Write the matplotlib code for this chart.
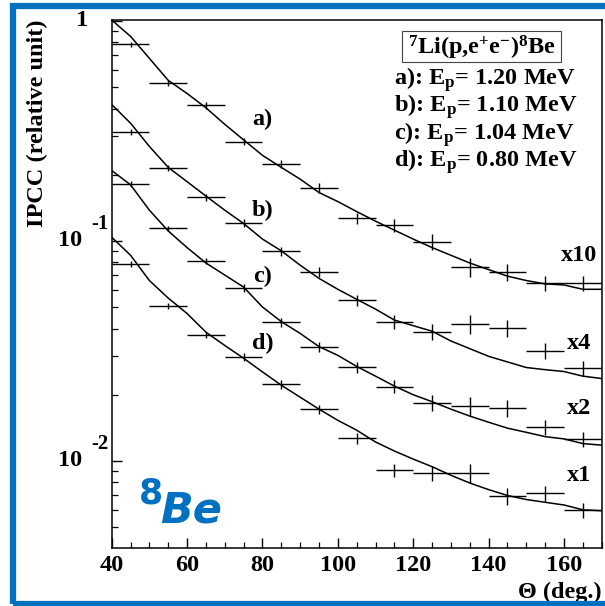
import matplotlib
matplotlib.use("Agg")
import matplotlib.pyplot as plt
import numpy as np
from matplotlib.patches import Rectangle
from matplotlib.ticker import MultipleLocator, LogLocator, NullFormatter, FixedLocator

# ---- data (IPCC vs angle, 7Li(p,e+e-)8Be) ----
theta = [45, 55, 65, 75, 85, 95, 105, 115, 125, 135, 145, 155, 165]
theta_halfwidth = 5
rel_err = [0.03, 0.03, 0.035, 0.04, 0.045, 0.05, 0.06, 0.07, 0.08, 0.10, 0.09, 0.08, 0.08]

data_a = [0.783, 0.522, 0.414, 0.283, 0.224, 0.174, 0.127, 0.118, 0.0993, 0.0764, 0.0724, 0.0643, 0.0643]
data_b = [0.314, 0.214, 0.158, 0.121, 0.0897, 0.0724, 0.0537, 0.0430, 0.0387, 0.0420, 0.0401, 0.0317, 0.0264]
data_c = [0.182, 0.114, 0.0811, 0.0610, 0.0427, 0.0331, 0.0267, 0.0218, 0.0184, 0.0177, 0.0174, 0.0142, 0.01256]
data_d = [0.0789, 0.0507, 0.0374, 0.0298, 0.0223, 0.0172, 0.0127, 0.0091, 0.0088, 0.00885, 0.00695, 0.00713, 0.00598]

curve_theta = [40, 45, 50, 55, 60, 65, 70, 75, 80, 85, 90, 95, 100, 105,
               110, 115, 120, 125, 130, 135, 140, 145, 150, 155, 160, 165, 170]
curve_a = [1.01, 0.851, 0.676, 0.537, 0.468, 0.403, 0.339, 0.288, 0.245, 0.216, 0.191, 0.166, 0.151, 0.136,
           0.123, 0.112, 0.102, 0.0933, 0.0861, 0.0794, 0.0741, 0.0692, 0.0661, 0.0638, 0.0631, 0.0603, 0.0603]
curve_b = [0.417, 0.343, 0.269, 0.216, 0.186, 0.160, 0.138, 0.120, 0.102, 0.0902, 0.0776, 0.0676, 0.0603, 0.0543,
           0.0490, 0.0437, 0.0412, 0.0389, 0.0351, 0.0324, 0.0299, 0.0282, 0.0266, 0.0260, 0.0255, 0.0243, 0.0237]
curve_c = [0.209, 0.180, 0.138, 0.111, 0.0933, 0.0794, 0.0700, 0.0617, 0.0501, 0.0430, 0.0380, 0.0331, 0.0302, 0.0269,
           0.0243, 0.0219, 0.0200, 0.0186, 0.0172, 0.0160, 0.0150, 0.0141, 0.0135, 0.0129, 0.0126, 0.0120, 0.0118]
curve_d = [0.104, 0.0861, 0.0661, 0.0550, 0.0468, 0.0385, 0.0335, 0.0293, 0.0254, 0.0221, 0.0195, 0.0172, 0.0153, 0.0138,
           0.0122, 0.0111, 0.0102, 0.00942, 0.00861, 0.00794, 0.00741, 0.00697, 0.00668, 0.00649, 0.00631, 0.00600, 0.00594]

series_labels = ["a)", "b)", "c)", "d)"]
scale_labels = ["x10", "x4", "x2", "x1"]
legend_lines = [r"a): E$_{\mathrm{p}}$= 1.20 MeV",
                r"b): E$_{\mathrm{p}}$= 1.10 MeV",
                r"c): E$_{\mathrm{p}}$= 1.04 MeV",
                r"d): E$_{\mathrm{p}}$= 0.80 MeV"]

# ---- style ----
plt.rcParams["font.family"] = "Liberation Serif"
plt.rcParams["font.weight"] = "bold"
plt.rcParams["mathtext.fontset"] = "custom"
plt.rcParams["mathtext.rm"] = "Liberation Serif:bold"
plt.rcParams["mathtext.it"] = "Liberation Serif:bold"
plt.rcParams["mathtext.bf"] = "Liberation Serif:bold"

FS = 17.5
W, H = 605, 606
fig = plt.figure(figsize=(W / 100, H / 100), dpi=100)


def fx(px):
    return px / W


def fy(py):
    return 1 - py / H


ax = fig.add_axes([fx(111.7), fy(548.3), fx(601.7) - fx(111.7), fy(20) - fy(548.3)])

for vals, curve in zip([data_a, data_b, data_c, data_d], [curve_a, curve_b, curve_c, curve_d]):
    vals = np.array(vals)
    ax.errorbar(theta, vals, xerr=theta_halfwidth, yerr=np.array(rel_err) * vals,
                fmt="none", ecolor="black", elinewidth=1.0, capsize=0)
    ax.plot(curve_theta, curve, color="black", lw=1.1)

ax.set_yscale("log")
ax.set_xlim(40, 170)
ax.set_ylim(0.00401, 1.01)

for s in ax.spines.values():
    s.set_linewidth(1.1)

ax.xaxis.set_major_locator(MultipleLocator(20))
ax.xaxis.set_minor_locator(MultipleLocator(5))
ax.yaxis.set_major_locator(FixedLocator([0.01, 0.1, 1.0]))
ax.yaxis.set_minor_locator(LogLocator(base=10, subs=np.arange(2, 10)))
ax.yaxis.set_major_formatter(NullFormatter())
ax.yaxis.set_minor_formatter(NullFormatter())
ax.tick_params(which="both", direction="in", top=False, right=False)
ax.tick_params(which="major", length=7, width=1.0, labelsize=FS, pad=5)
ax.tick_params(which="minor", length=4, width=0.9)

# ROOT-like y tick labels
ytr = ax.get_yaxis_transform()
ax.text(-0.048, 1.0, "1", transform=ytr, ha="right", va="center", fontsize=FS)
for v, ex in [(0.1, "-1"), (0.01, "-2")]:
    ax.text(-0.061, v, "10", transform=ytr, ha="right", va="center", fontsize=FS)
    ax.annotate(ex, xy=(0, v), xycoords=ytr, xytext=(-14.5, 12.5), textcoords="offset points",
                ha="left", va="center", fontsize=15)

fig.text(fx(37), fy(123), "IPCC (relative unit)", rotation=90, ha="center", va="center", fontsize=FS)
ax.text(1.0, -0.083, "\u0398 (deg.)", transform=ax.transAxes, ha="right", va="center", fontsize=FS)

# curve labels
for lab, y in zip(series_labels, [0.355, 0.138, 0.0689, 0.0343]):
    ax.text(80.1, y, lab, ha="center", va="center", fontsize=FS)
for lab, y in zip(scale_labels, [0.0855, 0.0343, 0.0174, 0.00863]):
    ax.text(164, y, lab, ha="center", va="center", fontsize=FS)

# legend block
fig.patches.append(Rectangle((fx(402), fy(62)), fx(561) - fx(402), fy(31) - fy(62),
                             transform=fig.transFigure, fill=False, ec="#444444", lw=0.8))
fig.text(fx(481.5), fy(55), r"$^{7}$Li(p,e$^{+}$e$^{-}$)$^{8}$Be", ha="center", va="baseline", fontsize=FS)
for line, yb in zip(legend_lines, [85, 112, 139.5, 166.5]):
    fig.text(fx(394), fy(yb), line, ha="left", va="baseline", fontsize=FS)

# blue 8Be tag
blue = "#0070C0"
ax.text(0.0557, 0.135, "8", transform=ax.transAxes, ha="left", va="top",
        fontsize=25, color=blue, family="DejaVu Sans", weight="bold")
ax.text(0.0986, 0.048, "Be", transform=ax.transAxes, ha="left", va="baseline",
        fontsize=31, color=blue, family="DejaVu Sans", weight="bold", style="italic")

# outer blue frame
fig.patches.append(Rectangle((fx(12.5), fy(604)), 1.05, fy(6) - fy(604),
                             transform=fig.transFigure, fill=False, ec=blue, lw=4.5))

fig.savefig("out.png", dpi=100, facecolor="white")
